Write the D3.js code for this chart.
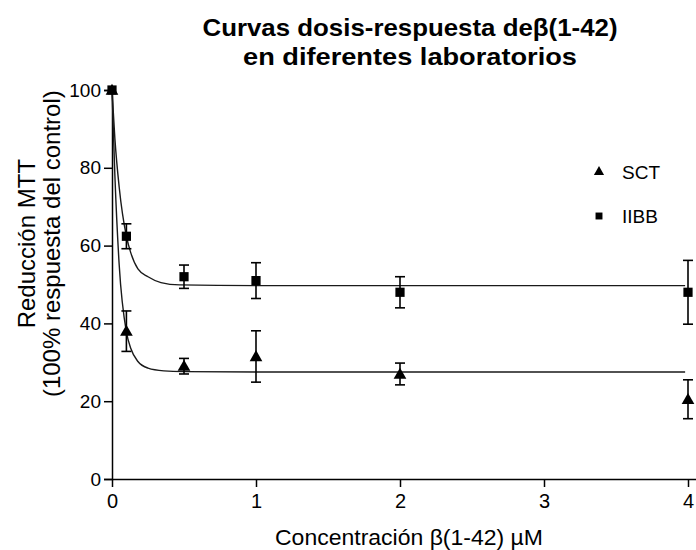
<!DOCTYPE html>
<html>
<head>
<meta charset="utf-8">
<script src="https://cdn.jsdelivr.net/npm/d3@7"></script>
<style>
  html, body { margin: 0; padding: 0; background: #fff; }
  svg { display: block; }
  text { font-family: "Liberation Sans", Arial, sans-serif; fill: #000; }
</style>
</head>
<body>
<svg id="chart" width="696" height="550"></svg>
<script>
// ---- data ----
const concentrations = [0, 0.1, 0.5, 1, 2, 4];
const sctMean = [100, 38, 29, 31.5, 27, 20.5];
const sctErr  = [0, 5.2, 2, 6.6, 2.8, 5];
const iibbMean = [100, 62.4, 52, 51, 48, 48];
const iibbErr  = [0, 3.2, 3, 4.6, 4, 8.2];

// fitted curves
const sctCurveX = [0, 0.02, 0.05, 0.1, 0.13, 0.18, 0.25, 0.36, 0.5, 1, 2, 3, 3.98];
const sctCurveY = [100, 78, 55, 37.8, 33.6, 30.2, 28.5, 27.8, 27.6, 27.5, 27.5, 27.5, 27.5];
const iibbCurveX = [0, 0.02, 0.05, 0.1, 0.13, 0.18, 0.25, 0.34, 0.47, 1, 2, 3, 3.98];
const iibbCurveY = [100, 87.5, 75, 62.4, 58.2, 54, 52, 50.5, 49.9, 49.7, 49.7, 49.7, 49.7];

const xTicks = [0, 1, 2, 3, 4];
const yTicks = [0, 20, 40, 60, 80, 100];

const titleLines = ["Curvas dosis-respuesta de\u03B2(1-42)", "en diferentes laboratorios"];
const xLabel = "Concentraci\u00F3n \u03B2(1-42) \u00B5M";
const yLabelLines = ["Reducci\u00F3n MTT", "(100% respuesta del control)"];
const seriesNames = ["SCT", "IIBB"];

// ---- drawing ----
const svg = d3.select("#chart");
const W = 696, H = 550;
const x = d3.scaleLinear().domain([0, 4]).range([112, 688]);
const y = d3.scaleLinear().domain([0, 100]).range([479, 90]);

// axes
const xAxis = d3.axisBottom(x).tickValues(xTicks).tickFormat(d3.format("d")).tickSizeOuter(0).tickSize(8).tickPadding(4);
const yAxis = d3.axisLeft(y).tickValues(yTicks).tickFormat(d3.format("d")).tickSizeOuter(0).tickSize(8).tickPadding(3);

const gx = svg.append("g").attr("transform", `translate(0,${y(0)})`).call(xAxis);
gx.select(".domain").attr("d", `M${x(0)},0.5H${W}`);
gx.selectAll("line").attr("stroke", "#000").attr("stroke-width", 1.5);
gx.selectAll(".domain").attr("stroke", "#000").attr("stroke-width", 1.5);
gx.selectAll("text").attr("font-size", 20).attr("font-family", "Liberation Sans, Arial, sans-serif").attr("dy", "0.85em");

const gy = svg.append("g").attr("transform", `translate(${x(0)},0)`).call(yAxis);
gy.selectAll("line").attr("stroke", "#000").attr("stroke-width", 1.5);
gy.selectAll(".domain").attr("stroke", "#000").attr("stroke-width", 1.5);
gy.selectAll("text").attr("font-size", 19).attr("font-family", "Liberation Sans, Arial, sans-serif");

// curves
const line = d3.line().x(d => x(d[0])).y(d => y(d[1])).curve(d3.curveMonotoneX);
const curves = [
  d3.zip(sctCurveX, sctCurveY),
  d3.zip(iibbCurveX, iibbCurveY)
];
svg.append("g").selectAll("path").data(curves).join("path")
  .attr("d", line).attr("fill", "none").attr("stroke", "#1a1a1a").attr("stroke-width", 1.4);

// error bars + markers
const series = [
  { name: seriesNames[0], mean: sctMean, err: sctErr, shape: d3.symbolTriangle, size: 70 },
  { name: seriesNames[1], mean: iibbMean, err: iibbErr, shape: d3.symbolSquare, size: 85 }
];
const cap = 5;
series.forEach(s => {
  const g = svg.append("g");
  const pts = concentrations.map((c, i) => ({ c, m: s.mean[i], e: s.err[i] }));
  const eb = g.selectAll("g.eb").data(pts.filter(p => p.e > 0)).join("g").attr("class", "eb");
  eb.append("line").attr("x1", p => x(p.c)).attr("x2", p => x(p.c))
    .attr("y1", p => y(p.m + p.e)).attr("y2", p => y(p.m - p.e))
    .attr("stroke", "#000").attr("stroke-width", 1.6);
  [1, -1].forEach(sg => {
    eb.append("line").attr("x1", p => x(p.c) - cap).attr("x2", p => x(p.c) + cap)
      .attr("y1", p => y(p.m + sg * p.e)).attr("y2", p => y(p.m + sg * p.e))
      .attr("stroke", "#000").attr("stroke-width", 1.6);
  });
  g.selectAll("path.m").data(pts).join("path").attr("class", "m")
    .attr("transform", p => `translate(${x(p.c)},${y(p.m) + (s.shape === d3.symbolTriangle ? 1 : 0)})`)
    .attr("d", d3.symbol().type(s.shape).size(s.size)).attr("fill", "#000");
});

// legend
const legend = svg.append("g");
series.forEach((s, i) => {
  const ly = 172 + i * 44;
  legend.append("path").attr("transform", `translate(599,${ly})`)
    .attr("d", d3.symbol().type(s.shape).size(s.shape === d3.symbolTriangle ? 45 : 48)).attr("fill", "#000");
  legend.append("text").attr("x", 622).attr("y", ly + 7).attr("font-size", 19).text(s.name);
});

// title
const titleWidths = [415, 334];
svg.append("g").selectAll("text").data(titleLines).join("text")
  .attr("x", 410).attr("y", (d, i) => 36 + i * 29)
  .attr("text-anchor", "middle").attr("font-weight", "bold").attr("font-size", 24)
  .attr("textLength", (d, i) => titleWidths[i]).attr("lengthAdjust", "spacingAndGlyphs")
  .text(d => d);

// x label
svg.append("text").attr("x", 409).attr("y", 545).attr("text-anchor", "middle")
  .attr("font-size", 22).attr("textLength", 268).attr("lengthAdjust", "spacingAndGlyphs")
  .text(xLabel);

// y label
svg.append("g").selectAll("text").data(yLabelLines).join("text")
  .attr("transform", (d, i) => `translate(${35 + i * 25},${y(60.5)}) rotate(-90)`)
  .attr("text-anchor", "middle").attr("font-size", 24)
  .text(d => d);
</script>
</body>
</html>
